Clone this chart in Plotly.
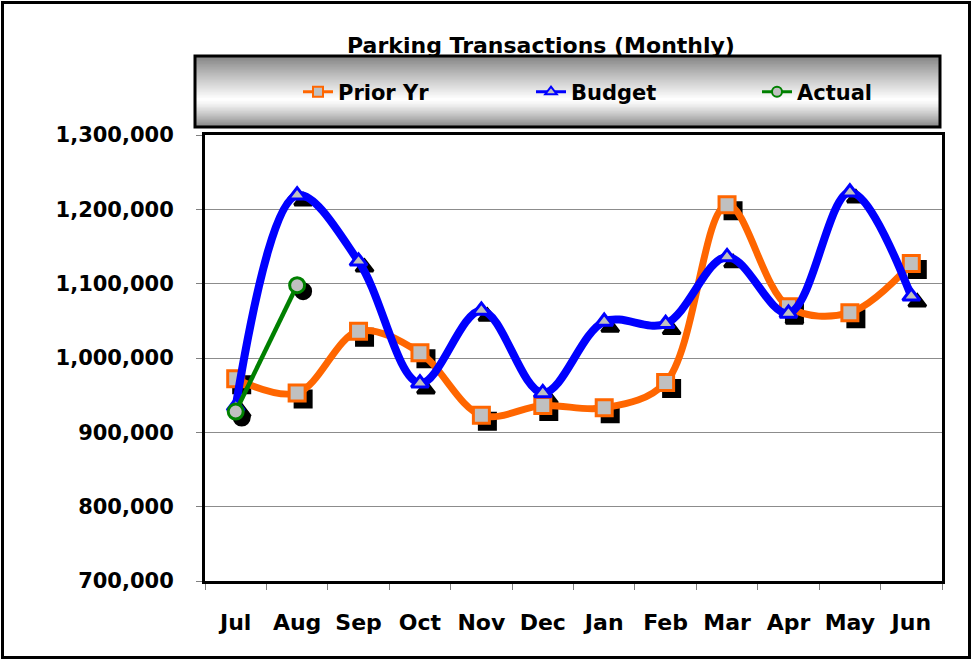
import plotly.graph_objects as go

# ---------------- data ----------------
months = ["Jul", "Aug", "Sep", "Oct", "Nov", "Dec", "Jan", "Feb", "Mar", "Apr", "May", "Jun"]
prior_yr = [972000, 953000, 1036000, 1007000, 923000, 936000, 933000, 967000, 1206000, 1069000, 1061000, 1127000]
budget = [935000, 1219000, 1130000, 966000, 1064000, 953000, 1049000, 1046000, 1136000, 1060000, 1223000, 1083000]
actual_months = ["Jul", "Aug"]
actual = [928000, 1098000]
y_ticks = [700000, 800000, 900000, 1000000, 1100000, 1200000, 1300000]
y_tick_labels = ["700,000", "800,000", "900,000", "1,000,000", "1,100,000", "1,200,000", "1,300,000"]
title_text = "Parking Transactions (Monthly)"

# ---------------- layout constants (px) ----------------
W, H = 972, 660
ML, MR, MT, MB = 205, 30, 135, 79
PW, PH = W - ML - MR, H - MT - MB
SHADOW = 6  # px offset of marker shadows

y_lo, y_hi = y_ticks[0], y_ticks[-1]
ncat = len(months)
dx = SHADOW / PW * ncat
dy = SHADOW / PH * (y_hi - y_lo)

def px_x(p):
    return (p - ML) / PW

def px_y(p):
    return (H - MB - p) / PH

FONT = "DejaVu Sans"
ORANGE = "#FF6600"
BLUE = "#0000FF"
GREEN = "#008000"
GRAYFILL = "#C0C0C0"

# name, x, y, colour, symbol, size, line width, legend id, legend text start px
series = [
    ("Prior Yr", months, prior_yr, ORANGE, "square", 16, 7, "legend", 338),
    ("Budget", months, budget, BLUE, "triangle-up", 15, 8, "legend2", 571),
    ("Actual", actual_months, actual, GREEN, "circle", 15, 4.5, "legend3", 797),
]

fig = go.Figure()

# shadows (drawn on hidden, shifted axes underneath)
for name, xs, ys, col, sym, size, lw, lg, tx in series:
    fig.add_trace(go.Scatter(
        x=xs, y=ys, mode="markers", xaxis="x", yaxis="y", showlegend=False,
        hoverinfo="skip",
        marker=dict(symbol=sym, size=size, color="black", line=dict(color="black", width=3)),
    ))

# real series
for name, xs, ys, col, sym, size, lw, lg, tx in series:
    fig.add_trace(go.Scatter(
        x=xs, y=ys, name=name, mode="lines+markers", xaxis="x2", yaxis="y2", showlegend=False,
        line=dict(color=col, width=lw, shape="spline", smoothing=1.0),
        marker=dict(symbol=sym, size=size, color=GRAYFILL, line=dict(color=col, width=3)),
    ))

# legend entries (thin keys like the original)
for name, xs, ys, col, sym, size, lw, lg, tx in series:
    fig.add_trace(go.Scatter(
        x=[None], y=[None], name=name, mode="lines+markers", xaxis="x2", yaxis="y2", legend=lg,
        showlegend=True,
        line=dict(color=col, width=3),
        marker=dict(symbol=sym, size=10, color=GRAYFILL, line=dict(color=col, width=2)),
    ))

shapes = []
# legend box gradient
top_px, bot_px, left_px, right_px = 56, 127, 195, 940
N = 48
for i in range(N):
    t = (i + 0.5) / N
    if t < 0.62:
        g = 125 + (255 - 125) * (t / 0.62) ** 0.9
    else:
        g = 255 - (255 - 135) * ((t - 0.62) / 0.38) ** 1.3
    g = int(round(g))
    y0 = top_px + (bot_px - top_px) * i / N
    y1 = top_px + (bot_px - top_px) * (i + 1) / N
    shapes.append(dict(type="rect", xref="paper", yref="paper",
                       x0=px_x(left_px), x1=px_x(right_px), y0=px_y(y1), y1=px_y(y0) + 0.002,
                       fillcolor=f"rgb({g},{g},{g})", line=dict(width=0), layer="below"))
shapes.append(dict(type="rect", xref="paper", yref="paper",
                   x0=px_x(left_px), x1=px_x(right_px), y0=px_y(bot_px), y1=px_y(top_px),
                   fillcolor="rgba(0,0,0,0)", line=dict(color="black", width=3)))
# outer border
shapes.append(dict(type="rect", xref="paper", yref="paper",
                   x0=px_x(2.5), x1=px_x(969.5), y0=px_y(657.5), y1=px_y(2.5),
                   fillcolor="rgba(0,0,0,0)", line=dict(color="black", width=3)))

legend_font = dict(family=FONT, size=21, color="black", weight="bold")
legends = {}
for name, xs, ys, col, sym, size, lw, lg, tx in series:
    legends[lg] = dict(orientation="h", x=px_x(tx - 40), xanchor="left", y=px_y(92), yanchor="middle",
                       bgcolor="rgba(0,0,0,0)", borderwidth=0, font=legend_font)

fig.update_layout(
    width=W, height=H,
    margin=dict(l=ML, r=MR, t=MT, b=MB, autoexpand=False),
    paper_bgcolor="white", plot_bgcolor="white",
    font=dict(family=FONT, size=20, color="black", weight="bold"),
    title=dict(text=title_text, x=541 / W, xref="container", xanchor="center",
               y=1 - 45 / H, yref="container", yanchor="middle",
               font=dict(family=FONT, size=22, color="black", weight="bold")),
    xaxis=dict(type="category", categoryorder="array", categoryarray=months,
               range=[-0.5 - dx, ncat - 0.5 - dx], visible=False, showgrid=False),
    yaxis=dict(range=[y_lo + dy, y_hi + dy], visible=False, showgrid=False),
    xaxis2=dict(type="category", categoryorder="array", categoryarray=months,
                range=[-0.5, ncat - 0.5], overlaying="x", anchor="y2",
                showline=True, linecolor="black", linewidth=3, mirror=True,
                ticks="outside", tickson="boundaries", ticklen=6, tickcolor="#808080", tickwidth=1,
                showgrid=False, ticklabelstandoff=20,
                tickfont=dict(family=FONT, size=22, color="black", weight="bold")),
    yaxis2=dict(range=[y_lo, y_hi], overlaying="y", anchor="x2",
                tickmode="array", tickvals=y_ticks, ticktext=y_tick_labels,
                showline=True, linecolor="black", linewidth=3, mirror=True,
                ticks="outside", ticklen=6, tickcolor="#808080", tickwidth=1,
                showgrid=True, gridcolor="#8C8C8C", gridwidth=1, zeroline=False,
                ticklabelstandoff=18,
                tickfont=dict(family=FONT, size=21, color="black", weight="bold")),
    shapes=shapes,
    showlegend=True,
    hovermode=False,
    **legends,
)

fig.write_html("out.html", config={"displayModeBar": False},
               post_script="document.body.style.margin='0';")
